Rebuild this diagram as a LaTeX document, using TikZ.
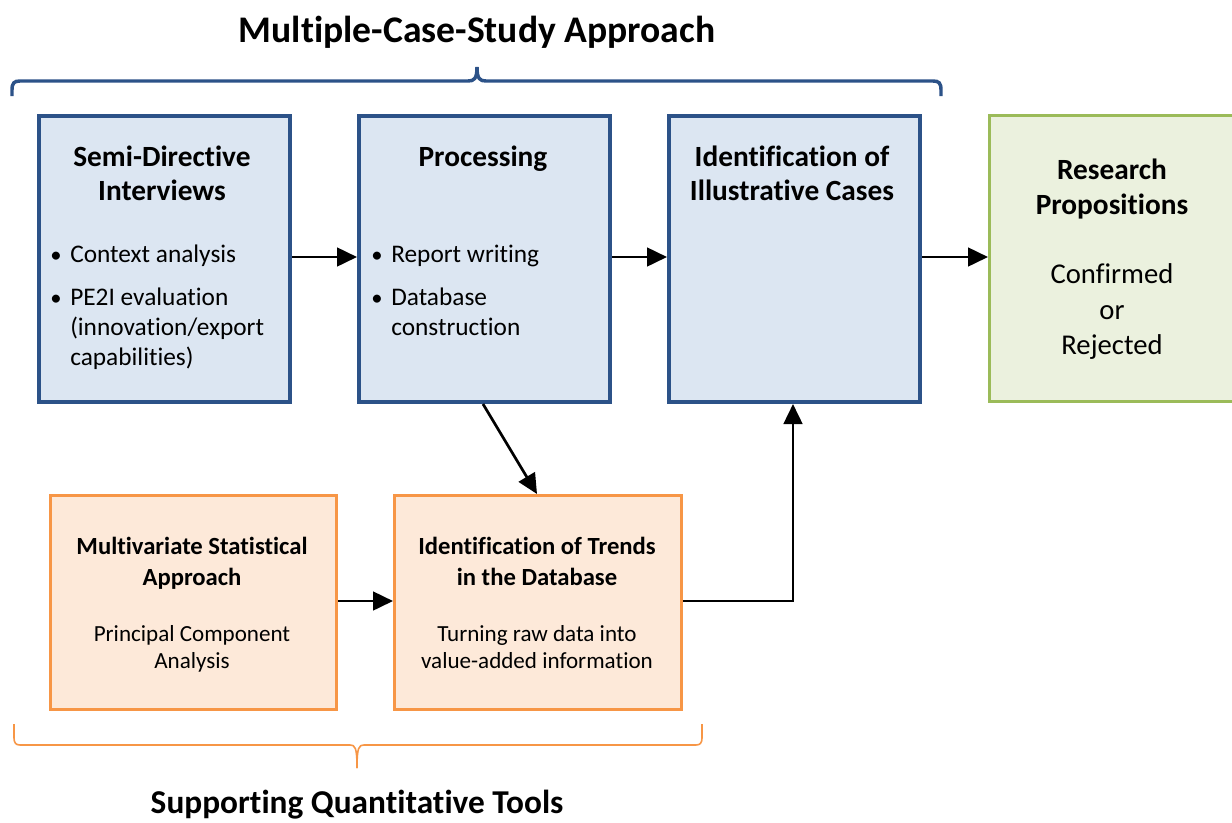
\documentclass[tikz,border=0pt]{standalone}
\usepackage{fontspec}
\setmainfont{Carlito}[Ligatures={NoCommon}]
\usetikzlibrary{arrows.meta}
\definecolor{bborder}{HTML}{2C5288}
\definecolor{bfill}{HTML}{DCE6F2}
\definecolor{gborder}{HTML}{9BBB59}
\definecolor{gfill}{HTML}{EBF1DE}
\definecolor{oborder}{HTML}{F79646}
\definecolor{ofill}{HTML}{FDE9D9}
\tikzset{
  box/.style={rectangle, inner sep=0pt, anchor=north west},
  bluebox/.style={box, draw=bborder, fill=bfill, line width=3pt},
  greenbox/.style={box, draw=gborder, fill=gfill, line width=2.4pt},
  orangebox/.style={box, draw=oborder, fill=ofill, line width=2.4pt},
  bhead/.style={anchor=base, font=\fontsize{22}{26}\selectfont\bfseries, inner sep=0pt},
  bbody/.style={anchor=base west, font=\fontsize{19}{23}\selectfont, inner sep=0pt},
  bdot/.style={anchor=base, font=\fontsize{17}{20}\selectfont, inner sep=0pt},
  cbody/.style={anchor=base, font=\fontsize{21.5}{25}\selectfont, inner sep=0pt},
  ohead/.style={anchor=base, font=\fontsize{18.5}{22}\selectfont\bfseries, inner sep=0pt},
  obody/.style={anchor=base, font=\fontsize{17.3}{20}\selectfont, inner sep=0pt},
  arr/.style={-{Triangle[length=15pt,width=14pt]}, line width=2pt, black},
}
\begin{document}
\begin{tikzpicture}[x=0.75pt,y=-0.75pt]
\useasboundingbox (0,0) rectangle (1232,822);
% boxes
\node[bluebox, minimum width=188.25pt, minimum height=214.5pt] (b1) at (37,114) {};
\node[bluebox, minimum width=188.25pt, minimum height=214.5pt] (b2) at (357,114) {};
\node[bluebox, minimum width=188.25pt, minimum height=214.5pt] (b3) at (667,114) {};
\node[greenbox, minimum width=190pt, minimum height=214.5pt] (b4) at (988,114) {};
\node[orangebox, minimum width=214.5pt, minimum height=160.5pt] (o1) at (49,494) {};
\node[orangebox, minimum width=215.25pt, minimum height=160.5pt] (o2) at (393,494) {};
% titles
\node[anchor=base, font=\fontsize{28.2}{32}\selectfont\bfseries, inner sep=0pt] (t1) at (477,42) {Multiple-Case-Study Approach};
\node[anchor=base, font=\fontsize{25}{29}\selectfont\bfseries, inner sep=0pt] (t2) at (357,813) {Supporting Quantitative Tools};
% box 1 text
\node[bhead] (h1a) at (162,166) {Semi-Directive};
\node[bhead] (h1b) at (162,200) {Interviews};
\node[bdot] (d1a) at (56,262) {•};
\node[bbody] (l1a) at (70,262) {Context analysis};
\node[bdot] (d1b) at (56,305) {•};
\node[bbody] (l1b) at (70,305) {PE2I evaluation};
\node[bbody] (l1c) at (70,335) {(innovation/export};
\node[bbody] (l1d) at (70,365) {capabilities)};
% box 2 text
\node[bhead] (h2a) at (483,166) {Processing};
\node[bdot] (d2a) at (377,262) {•};
\node[bbody] (l2a) at (391,262) {Report writing};
\node[bdot] (d2b) at (377,305) {•};
\node[bbody] (l2b) at (391,305) {Database};
\node[bbody] (l2c) at (391,335) {construction};
% box 3 text
\node[bhead] (h3a) at (792,166) {Identification of};
\node[bhead] (h3b) at (792,200) {Illustrative Cases};
% box 4 text
\node[bhead] (h4a) at (1112,179) {Research};
\node[bhead] (h4b) at (1112,214) {Propositions};
\node[cbody] (c4a) at (1112,283) {Confirmed};
\node[cbody] (c4b) at (1112,319) {or};
\node[cbody] (c4c) at (1112,354) {Rejected};
% orange 1 text
\node[ohead] (oh1a) at (192,554) {Multivariate Statistical};
\node[ohead] (oh1b) at (192,585) {Approach};
\node[obody] (ob1a) at (192,641) {Principal Component};
\node[obody] (ob1b) at (192,668) {Analysis};
% orange 2 text
\node[ohead] (oh2a) at (537,554) {Identification of Trends};
\node[ohead] (oh2b) at (537,585) {in the Database};
\node[obody] (ob2a) at (537,641) {Turning raw data into};
\node[obody] (ob2b) at (537,668) {value-added information};
% arrows
\draw[arr] (b1.east |- 0,257) -- (b2.west |- 0,257);
\draw[arr] (b2.east |- 0,257) -- (b3.west |- 0,257);
\draw[arr] (b3.east |- 0,257) -- (b4.west |- 0,257);
\draw[arr] (b2.south -| 483,0) -- (o2.north -| 537,0);
\draw[arr] (o1.east |- 0,601) -- (o2.west |- 0,601);
\draw[arr] (o2.east |- 0,601) -- (793,601) -- (b3.south -| 793,0);
% braces
\draw[bborder, line width=2.6pt] (12,96) -- (12,90) .. controls (12,83) and (14,81) .. (20,81) -- (468,81) .. controls (474,81) and (477,79) .. (477,67);
\draw[bborder, line width=2.6pt] (477,67) .. controls (477,79) and (480,81) .. (486,81) -- (933,81) .. controls (939,81) and (941,83) .. (941,90) -- (941,96);
\draw[oborder, line width=1.2pt] (14,724) -- (14,738) .. controls (14,743) and (16,745) .. (20,745) -- (350,745) .. controls (355,745) and (357,747) .. (357,768);
\draw[oborder, line width=1.2pt] (357,768) .. controls (357,747) and (359,745) .. (364,745) -- (696,745) .. controls (700,745) and (702,743) .. (702,738) -- (702,724);
\end{tikzpicture}
\end{document}
